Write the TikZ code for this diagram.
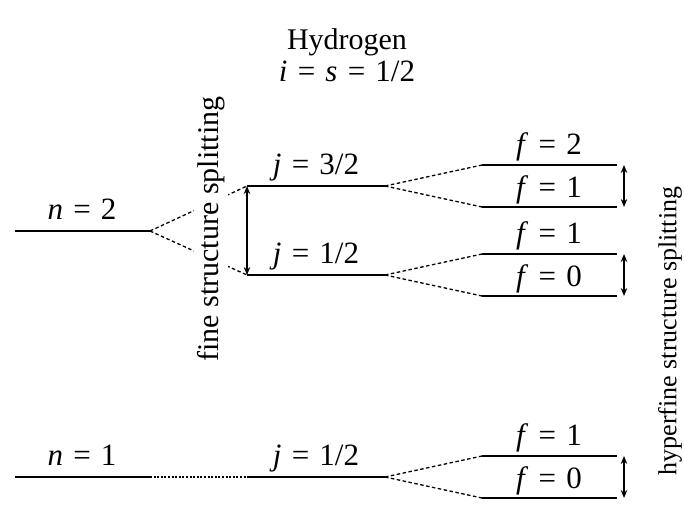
\documentclass[tikz,border=0pt]{standalone}
\usepackage{fontspec}
\setmainfont{Liberation Serif}
\usetikzlibrary{arrows.meta}
\newcommand{\eqsign}{\hspace{0.08em}=\hspace{0.08em}}
\begin{document}
\begin{tikzpicture}[x=1pt,y=-1pt,
  lvl/.style={line width=1.4pt},
  split/.style={line width=1.3pt,dash pattern=on 3.5pt off 2.5pt},
  dots/.style={line width=1.5pt,dash pattern=on 2pt off 1.6pt},
  gap/.style={line width=1.3pt,{Stealth[length=8pt,width=6.5pt]}-{Stealth[length=8pt,width=6.5pt]}},
  lab/.style={font=\fontsize{31}{36}\selectfont,anchor=base,inner sep=0pt},
  ttl/.style={font=\fontsize{30}{36}\selectfont,anchor=base,inner sep=0pt},
  side/.style={rotate=90,inner sep=0pt}]
\useasboundingbox (0,0) rectangle (684,520);
% title
\node[ttl] (title) at (347,49) {Hydrogen};
\node[lab] (spin) at (347,81) {\textit{i} \eqsign{} \textit{s} \eqsign{} 1/2};
% level end points
\coordinate (n2a) at (15,231);  \coordinate (n2b) at (150,231);
\coordinate (j3a) at (247,186); \coordinate (j3b) at (385,186);
\coordinate (j1a) at (247,275); \coordinate (j1b) at (385,275);
\coordinate (f2a) at (482,165); \coordinate (f2b) at (617,165);
\coordinate (f1a) at (482,207); \coordinate (f1b) at (617,207);
\coordinate (g1a) at (482,254); \coordinate (g1b) at (617,254);
\coordinate (g0a) at (482,296); \coordinate (g0b) at (617,296);
\coordinate (n1a) at (15,477);  \coordinate (n1b) at (150,477);
\coordinate (k1a) at (247,477); \coordinate (k1b) at (385,477);
\coordinate (h1a) at (482,456); \coordinate (h1b) at (617,456);
\coordinate (h0a) at (482,498); \coordinate (h0b) at (617,498);
% levels
\foreach \a/\b in {n2a/n2b,j3a/j3b,j1a/j1b,f2a/f2b,f1a/f1b,g1a/g1b,g0a/g0b,n1a/n1b,k1a/k1b,h1a/h1b,h0a/h0b}
  \draw[lvl] (\a) -- (\b);
% splittings
\draw[split] (n2b) -- (j3a);
\draw[split] (n2b) -- (j1a);
\draw[split] (j3b) -- (f2a);
\draw[split] (j3b) -- (f1a);
\draw[split] (j1b) -- (g1a);
\draw[split] (j1b) -- (g0a);
\draw[dots] (n1b) -- (k1a);
\draw[split] (k1b) -- (h1a);
\draw[split] (k1b) -- (h0a);
% arrows
\coordinate (fa) at (247,186); \coordinate (fb) at (247,275);
\draw[gap] (fa) -- (fb);
\coordinate (ha1) at (624,165); \coordinate (hb1) at (624,207);
\draw[gap] (ha1) -- (hb1);
\coordinate (ha2) at (624,254); \coordinate (hb2) at (624,296);
\draw[gap] (ha2) -- (hb2);
\coordinate (ha3) at (624,456); \coordinate (hb3) at (624,498);
\draw[gap] (ha3) -- (hb3);
% labels
\node[lab] (ln2) at (82,219) {\textit{n} \eqsign{} 2};
\node[lab] (lj3) at (316,174) {\textit{j} \eqsign{} 3/2};
\node[lab] (lj1) at (316,263) {\textit{j} \eqsign{} 1/2};
\node[lab] (lf2) at (549,154) {\textit{f} \eqsign{} 2};
\node[lab] (lf1) at (549,197) {\textit{f} \eqsign{} 1};
\node[lab] (lg1) at (549,243) {\textit{f} \eqsign{} 1};
\node[lab] (lg0) at (549,286) {\textit{f} \eqsign{} 0};
\node[lab] (ln1) at (82,465) {\textit{n} \eqsign{} 1};
\node[lab] (lk1) at (316,465) {\textit{j} \eqsign{} 1/2};
\node[lab] (lh1) at (549,445) {\textit{f} \eqsign{} 1};
\node[lab] (lh0) at (549,488) {\textit{f} \eqsign{} 0};
\node[side,fill=white,inner xsep=1pt,inner ysep=3pt,font=\fontsize{30}{36}\selectfont] (fine) at (211,229) {fine structure splitting};
\node[side,font=\fontsize{26}{30}\selectfont] (hyper) at (670,331) {hyperfine structure splitting};
\end{tikzpicture}
\end{document}
